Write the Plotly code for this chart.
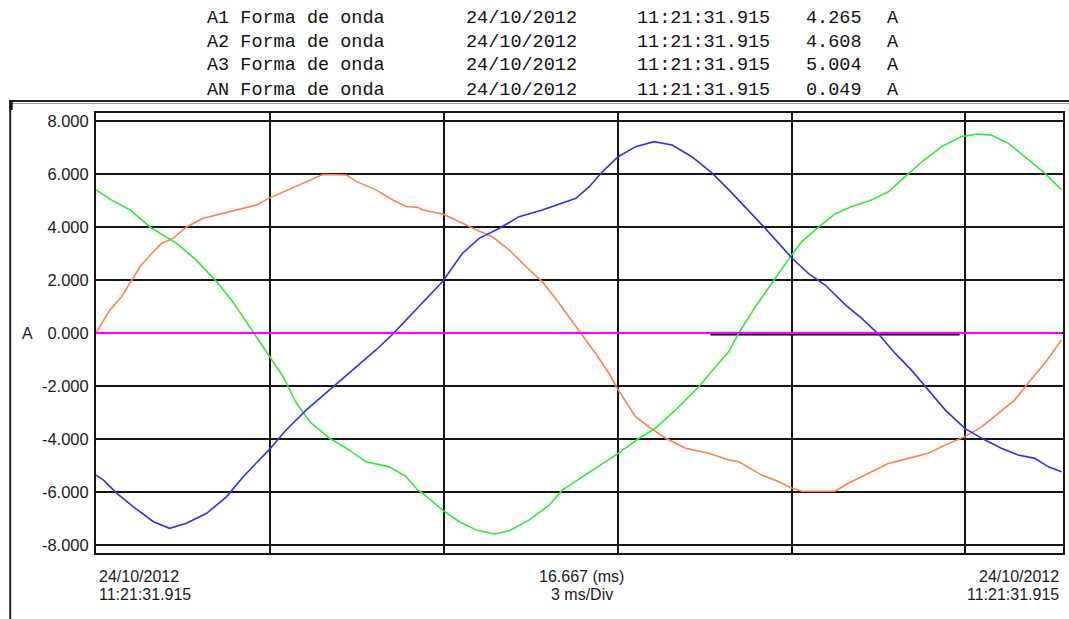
import plotly.graph_objects as go

# ---------------- data (time in ms, current in A) ----------------
t_a1 = [0.00, 0.24, 0.44, 0.59, 0.76, 0.96, 1.13, 1.33, 1.56, 1.85, 2.19, 2.54, 2.77, 2.98,
        3.23, 3.51, 3.74, 3.91, 4.32, 4.49, 4.83, 5.12, 5.35, 5.55, 5.64, 5.98, 6.27, 6.56,
        6.84, 7.13, 7.42, 7.70, 7.99, 8.33, 8.62, 8.85, 9.01, 9.31, 9.54, 9.83, 10.17, 10.57,
        10.92, 11.09, 11.49, 11.78, 12.01, 12.18, 12.75, 12.98, 13.33, 13.67, 14.02, 14.36,
        14.65, 14.99, 15.28, 15.57, 15.85, 16.08, 16.37, 16.66]
a1 = [0.00, 0.87, 1.37, 1.88, 2.50, 3.00, 3.38, 3.57, 4.00, 4.33, 4.52, 4.70, 4.83, 5.08,
      5.33, 5.58, 5.83, 5.98, 5.96, 5.72, 5.40, 5.02, 4.77, 4.74, 4.64, 4.49, 4.20, 3.89,
      3.63, 3.13, 2.50, 1.94, 1.12, 0.11, -0.77, -1.52, -2.15, -3.16, -3.54, -3.97, -4.35, -4.54,
      -4.79, -4.86, -5.36, -5.61, -5.86, -5.97, -5.97, -5.67, -5.30, -4.92, -4.73, -4.54,
      -4.23, -3.91, -3.54, -3.03, -2.53, -1.90, -1.14, -0.26]

t_a2 = [0.00, 0.13, 0.36, 0.64, 0.99, 1.27, 1.56, 1.91, 2.25, 2.54, 2.98, 3.28, 3.63, 4.09,
        4.49, 4.83, 5.12, 5.35, 5.69, 5.98, 6.32, 6.61, 6.96, 7.30, 7.70, 8.05, 8.28, 8.51,
        8.74, 9.01, 9.31, 9.63, 9.94, 10.28, 10.63, 10.92, 11.20, 11.49, 11.78, 12.01, 12.29,
        12.58, 12.93, 13.21, 13.50, 13.79, 14.07, 14.36, 14.65, 14.99, 15.34, 15.62, 15.91,
        16.20, 16.43, 16.66]
a2 = [-5.36, -5.55, -6.05, -6.55, -7.12, -7.37, -7.18, -6.80, -6.18, -5.42, -4.42, -3.66,
      -2.90, -2.03, -1.27, -0.64, -0.04, 0.49, 1.25, 1.94, 3.00, 3.57, 3.95, 4.39, 4.64, 4.89,
      5.08, 5.52, 6.09, 6.65, 7.03, 7.22, 7.09, 6.65, 6.03, 5.40, 4.77, 4.08, 3.38, 2.82, 2.25,
      1.81, 1.06, 0.55, -0.04, -0.77, -1.40, -2.15, -2.90, -3.60, -4.04, -4.35, -4.60,
      -4.73, -5.05, -5.23]

t_a3 = [0.00, 0.24, 0.59, 0.93, 1.39, 1.73, 2.08, 2.36, 2.65, 2.98, 3.23, 3.46, 3.69, 4.03,
        4.37, 4.66, 5.06, 5.35, 5.55, 5.64, 5.98, 6.27, 6.56, 6.87, 7.13, 7.47, 7.82, 8.05,
        8.39, 8.74, 9.01, 9.37, 9.65, 10.00, 10.40, 10.69, 10.92, 11.09, 11.38, 11.66, 11.98,
        12.18, 12.47, 12.75, 13.04, 13.38, 13.67, 13.96, 14.25, 14.59, 14.93, 15.22, 15.45,
        15.74, 16.03, 16.37, 16.66]
a3 = [5.40, 5.05, 4.64, 4.00, 3.38, 2.75, 1.94, 1.18, 0.24, -0.83, -1.65, -2.65, -3.35, -3.97,
      -4.42, -4.86, -5.05, -5.42, -5.92, -6.05, -6.68, -7.12, -7.43, -7.58, -7.46, -7.06,
      -6.49, -5.92, -5.42, -4.92, -4.54, -3.97, -3.60, -2.90, -2.03, -1.27, -0.70, 0.00, 1.00,
      1.88, 2.88, 3.45, 4.00, 4.49, 4.77, 5.02, 5.33, 5.90, 6.46, 7.03, 7.41, 7.51, 7.46, 7.16,
      6.65, 6.03, 5.40]

t_an = [0.00, 16.667]
an = [0.00, 0.00]

t_an_dark = [10.60, 14.90]
an_dark = [-0.05, -0.05]

y_tick_vals = [-8, -6, -4, -2, 0, 2, 4, 6, 8]
y_tick_text = ["-8.000", "-6.000", "-4.000", "-2.000", "0.000", "2.000", "4.000", "6.000", "8.000"]
x_grid_vals = [3, 6, 9, 12, 15]

channels = ["A1", "A2", "A3", "AN"]
header_dates = ["24/10/2012", "24/10/2012", "24/10/2012", "24/10/2012"]
header_times = ["11:21:31.915", "11:21:31.915", "11:21:31.915", "11:21:31.915"]
header_rms = ["4.265", "4.608", "5.004", "0.049"]
header_unit = ["A", "A", "A", "A"]

# ---------------- geometry helpers ----------------
W, H = 1069, 619
ML, MR, MT, MB = 96, 4, 113, 66
PW, PH = W - ML - MR, H - MT - MB


def px_x(px):
    return (px - ML) / PW


def px_y(py):
    return (H - MB - py) / PH


fig = go.Figure()
fig.add_trace(go.Scatter(x=t_an, y=an, mode="lines", line=dict(color="#ff00ff", width=2), name="AN"))
fig.add_trace(go.Scatter(x=t_an_dark, y=an_dark, mode="lines", line=dict(color="#000000", width=2.5), name="AN*"))
fig.add_trace(go.Scatter(x=t_a1, y=a1, mode="lines", line=dict(color="#ff7f50", width=1.6), name="A1"))
fig.add_trace(go.Scatter(x=t_a3, y=a3, mode="lines", line=dict(color="#33e833", width=1.6), name="A3"))
fig.add_trace(go.Scatter(x=t_a2, y=a2, mode="lines", line=dict(color="#3030f0", width=1.6), name="A2"))
fig.add_trace(go.Scatter(x=t_an, y=an, mode="lines", line=dict(color="#ff00ff", width=1.8),
                         name="AN", showlegend=False))

annotations = []
mono = dict(family="Liberation Mono, Courier New, monospace", size=18.5, color="#111111")
col_px = [205, 465, 636, 805, 887]
row_py = [18, 42, 66, 90]
for i, ch in enumerate(channels):
    cells = [f"{ch} Forma de onda", header_dates[i], header_times[i], header_rms[i], header_unit[i]]
    for j, txt in enumerate(cells):
        annotations.append(dict(text=txt, xref="paper", yref="paper", x=px_x(col_px[j]), y=px_y(row_py[i]),
                                xanchor="left", yanchor="middle", showarrow=False, font=mono))

sans = dict(family="Liberation Sans, Arial, sans-serif", size=16, color="#1a1a1a")
tick_font = dict(family="Liberation Sans, Arial, sans-serif", size=16.5, color="#1a1a1a")
bottom = [
    ("24/10/2012", 97, 576, "left"), ("11:21:31.915", 97, 594, "left"),
    ("16.667 (ms)", 583, 576, "center"), ("3 ms/Div", 583, 594, "center"),
    ("24/10/2012", 1063, 576, "right"), ("11:21:31.915", 1063, 594, "right"),
]
for txt, px, py, anc in bottom:
    annotations.append(dict(text=txt, xref="paper", yref="paper", x=px_x(px), y=px_y(py),
                            xanchor=anc, yanchor="middle", showarrow=False, font=sans))
annotations.append(dict(text="A", xref="paper", yref="y", x=px_x(27), y=0, xanchor="center",
                        yanchor="middle", showarrow=False, font=sans))

shapes = [
    dict(type="line", xref="paper", yref="paper", x0=px_x(9), x1=px_x(1075), y0=px_y(101), y1=px_y(101),
         line=dict(color="#222222", width=2)),
    dict(type="line", xref="paper", yref="paper", x0=px_x(9), x1=px_x(1075), y0=px_y(103.5), y1=px_y(103.5),
         line=dict(color="#9a9a9a", width=1)),
    dict(type="line", xref="paper", yref="paper", x0=px_x(10), x1=px_x(10), y0=px_y(100), y1=px_y(625),
         line=dict(color="#222222", width=2)),
    dict(type="rect", xref="paper", yref="paper", x0=px_x(9.5), x1=px_x(12.5), y0=px_y(101), y1=px_y(110),
         line=dict(width=0), fillcolor="#111111"),
]

fig.update_layout(
    width=W, height=H,
    margin=dict(l=ML, r=MR, t=MT, b=MB),
    paper_bgcolor="white", plot_bgcolor="white",
    showlegend=False,
    annotations=annotations,
    shapes=shapes,
    xaxis=dict(range=[0, 16.667 * PW / (PW - 1)], tickvals=x_grid_vals, showticklabels=False, ticks="",
               showgrid=True, gridcolor="#151515", gridwidth=2, zeroline=False,
               showline=True, linecolor="#151515", linewidth=2, mirror=True, fixedrange=True),
    yaxis=dict(range=[-8.3, 8.3], tickvals=y_tick_vals, ticktext=y_tick_text, ticks="",
               ticklabelstandoff=2, tickfont=tick_font,
               showgrid=True, gridcolor="#151515", gridwidth=2, zeroline=False,
               showline=True, linecolor="#151515", linewidth=2, mirror=True, fixedrange=True),
)

fig.write_html("out.html", config={"displayModeBar": False},
               post_script="document.body.style.margin='0';document.body.style.overflow='hidden';")
